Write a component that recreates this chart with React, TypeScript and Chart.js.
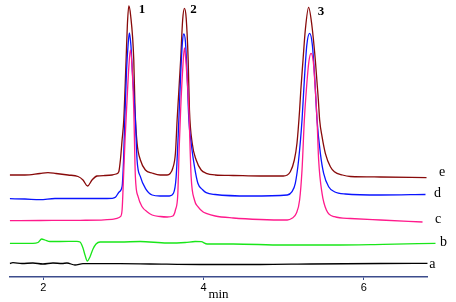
import { useEffect, useRef } from "react";
import { Chart, registerables } from "chart.js";

Chart.register(...registerables);

// ---- data (time in min, detector signal in arbitrary units) ----
const tickValues = [2, 4, 6];
const axisTitle = "min";

const traceNames = ["a", "b", "c", "d", "e"];
const traceColors = ["#000000", "#19e619", "#ff1a8c", "#0a14ff", "#880a0a"];

const aTimes = [1.584, 1.621, 1.734, 1.871, 1.996, 2.121, 2.234, 2.296, 2.396, 2.496, 2.959, 3.334, 3.959, 4.709, 5.334, 6.209, 6.796];
const aValues = [13.5, 14.3, 13.5, 14, 13, 14, 13.5, 14, 12, 13.3, 13.3, 13, 12.5, 12.5, 13, 13.5, 13.7];

const bTimes = [1.584, 1.871, 1.934, 1.98, 2.021, 2.084, 2.209, 2.421, 2.459, 2.496, 2.521, 2.55, 2.584, 2.621, 2.659, 2.709, 2.959, 3.209, 3.546, 3.771, 3.896, 3.971, 4.046, 4.371, 4.996, 5.621, 6.246, 6.896];
const bValues = [33.7, 33.7, 34.5, 38, 37, 35.5, 35.5, 35.7, 35, 29, 22, 16, 20.3, 28, 33, 35, 35, 35.5, 34, 34.5, 35.5, 35.3, 33, 33, 32, 32, 32.7, 33.7];

const cTimes = [1.584, 1.959, 2.459, 2.859, 2.921, 2.9625, 2.984, 3.0025, 3.021, 3.046, 3.0675, 3.0875, 3.109, 3.13, 3.15, 3.184, 3.234, 3.296, 3.359, 3.459, 3.546, 3.6175, 3.65, 3.68, 3.696, 3.715, 3.74, 3.7625, 3.784, 3.8175, 3.846, 3.8875, 3.93, 3.9925, 4.034, 4.146, 4.371, 4.709, 5.046, 5.105, 5.159, 5.2, 5.23, 5.259, 5.284, 5.315, 5.3425, 5.371, 5.396, 5.4175, 5.4375, 5.48, 5.534, 5.634, 5.834, 6.209, 6.734];
const cValues = [56.3, 56.5, 56.7, 57.7, 58.7, 60.3, 67, 101, 137, 177, 209, 227, 209, 167, 100.3, 80.3, 70.3, 65.3, 62, 60.5, 60, 61, 67, 83.7, 127, 167, 207, 229, 212, 167, 100.3, 77, 70.3, 65.3, 63.7, 61, 59, 57.5, 57, 58.7, 63.7, 77, 107, 157, 187, 215, 223.7, 215, 187, 157, 117, 83.7, 67, 60.3, 58.5, 57, 55];

const dTimes = [1.584, 1.771, 1.959, 2.146, 2.459, 2.709, 2.859, 2.9, 2.95, 2.984, 3.0025, 3.0175, 3.04, 3.059, 3.075, 3.094, 3.115, 3.15, 3.171, 3.2125, 3.275, 3.359, 3.459, 3.575, 3.625, 3.659, 3.6925, 3.715, 3.7375, 3.755, 3.775, 3.796, 3.8175, 3.846, 3.8875, 3.93, 3.9925, 4.034, 4.146, 4.584, 5.046, 5.105, 5.146, 5.1875, 5.23, 5.259, 5.29, 5.325, 5.359, 5.39, 5.4175, 5.459, 5.5, 5.5625, 5.634, 5.771, 6.209, 6.771];
const dValues = [78.3, 78, 77.3, 78.5, 78.5, 78.5, 78.7, 79.7, 85.3, 90.3, 117, 157, 207, 232, 244, 232, 202, 157, 117, 100.3, 88.7, 82, 81, 81, 83.7, 100.3, 157, 202, 235, 243, 235, 202, 157, 134, 110.3, 93.7, 87, 84.3, 82.5, 81, 82, 85.3, 93.7, 117, 157, 197, 232, 243.7, 232, 197, 157, 123.7, 103.7, 90.3, 85.3, 83, 82, 82.5];

const eTimes = [1.584, 1.771, 1.959, 2.059, 2.159, 2.309, 2.434, 2.496, 2.553, 2.609, 2.671, 2.771, 2.859, 2.909, 2.943, 2.963, 2.984, 3.005, 3.034, 3.05, 3.068, 3.09, 3.13, 3.146, 3.171, 3.2125, 3.275, 3.359, 3.459, 3.546, 3.584, 3.6175, 3.65, 3.671, 3.715, 3.74, 3.7625, 3.784, 3.809, 3.825, 3.859, 3.909, 3.971, 4.034, 4.146, 4.371, 4.709, 4.996, 5.084, 5.134, 5.1675, 5.2, 5.215, 5.2425, 5.271, 5.3125, 5.3525, 5.396, 5.434, 5.45, 5.48, 5.521, 5.584, 5.634, 5.734, 5.834, 6.209, 6.784];
const eValues = [102, 102, 103.5, 104.3, 103.5, 102, 100.5, 97, 91, 97, 101, 101.5, 102, 103, 105.3, 117, 137, 157, 217, 252, 271, 262, 217, 167, 134, 117, 107, 104, 102, 102, 103.5, 109, 124, 157, 217, 257, 268.7, 259, 217, 167, 134, 117, 107, 103.7, 102, 101.5, 101, 101, 105.3, 117, 134, 167, 187, 217, 247, 269.7, 252, 217, 177, 157, 140.3, 123.7, 110.3, 105.3, 102, 100.5, 100, 99.3];

const peakNames = ["1", "2", "3"];
const peakTimes = [3.068, 3.7625, 5.3125];

const traceTimes = [aTimes, bTimes, cTimes, dTimes, eTimes];
const traceValues = [aValues, bValues, cValues, dValues, eValues];

// ---- style (pixel offsets of text relative to the marks) ----
const endLabelOffsets = [
  { dx: 5, dy: 1.5 },
  { dx: 8, dy: -0.5 },
  { dx: 15.7, dy: -2.6 },
  { dx: 12, dy: -1.5 },
  { dx: 15.7, dy: -5.6 },
];
const peakLabelOffsets = [
  { dx: 13.3, dy: 4 },
  { dx: 9, dy: 1.7 },
  { dx: 12.4, dy: 4.4 },
];

const SERIF = "'Liberation Serif', 'Times New Roman', Times, serif";
const SANS = "'Liberation Sans', Arial, Helvetica, sans-serif";
const AXIS_COLOR = "#3c4c8c";

const textPlugin = {
  id: "chromLabels",
  afterDatasetsDraw(chart: any) {
    const ctx = chart.ctx;
    const xs = chart.scales.x;
    const ys = chart.scales.y;
    ctx.save();
    ctx.fillStyle = "#000";
    ctx.textAlign = "center";
    ctx.textBaseline = "middle";
    ctx.font = `14px ${SERIF}`;
    traceNames.forEach((name, i) => {
      const ts = traceTimes[i];
      const vs = traceValues[i];
      const n = ts.length - 1;
      const px = xs.getPixelForValue(ts[n]) + endLabelOffsets[i].dx;
      const py = ys.getPixelForValue(vs[n]) + endLabelOffsets[i].dy;
      ctx.fillText(name, px, py);
    });
    ctx.font = `bold 13px ${SERIF}`;
    peakNames.forEach((name, i) => {
      const t = peakTimes[i];
      let best = -Infinity;
      eTimes.forEach((tt, k) => {
        if (Math.abs(tt - t) < 0.05 && eValues[k] > best) best = eValues[k];
      });
      const px = xs.getPixelForValue(t) + peakLabelOffsets[i].dx;
      const py = ys.getPixelForValue(best) + peakLabelOffsets[i].dy;
      ctx.fillText(name, px, py);
    });
    ctx.restore();
  },
};

export default function App() {
  const canvasRef = useRef<HTMLCanvasElement | null>(null);

  useEffect(() => {
    if (!canvasRef.current) return;
    const datasets = traceNames.map((name, i) => ({
      label: name,
      data: traceTimes[i].map((t, k) => ({ x: t, y: traceValues[i][k] })),
      borderColor: traceColors[i],
      borderWidth: 1.3,
      pointRadius: 0,
      fill: false,
      tension: 0.4,
      cubicInterpolationMode: "monotone" as const,
      clip: false as any,
    }));

    const chart = new Chart(canvasRef.current, {
      type: "line",
      data: { datasets },
      plugins: [textPlugin],
      options: {
        animation: false,
        responsive: true,
        maintainAspectRatio: false,
        layout: { padding: { left: 10, right: 29, top: 0, bottom: 0 } },
        plugins: { legend: { display: false }, tooltip: { enabled: false } },
        scales: {
          x: {
            type: "linear",
            min: 1.585,
            max: 6.79,
            afterBuildTicks: (scale: any) => {
              scale.ticks = tickValues.map((v) => ({ value: v }));
            },
            afterFit: (scale: any) => {
              scale.height = 25;
            },
            grid: {
              display: true,
              drawOnChartArea: false,
              drawTicks: true,
              tickLength: 3,
              color: AXIS_COLOR,
              lineWidth: 1,
            },
            border: { display: true, color: AXIS_COLOR, width: 1.5 },
            ticks: {
              padding: 1,
              color: "#000",
              font: { family: SANS, size: 11 },
              maxRotation: 0,
              callback: (v: any) => String(v),
            },
            title: {
              display: true,
              text: axisTitle,
              color: "#000",
              font: { family: SERIF, size: 13 },
              padding: { top: 0, bottom: 0 },
            },
          },
          y: {
            type: "linear",
            display: false,
            min: 0,
            max: 277,
          },
        },
      },
    });
    return () => chart.destroy();
  }, []);

  return (
    <div style={{ position: "absolute", left: 0, top: 0, width: 456, height: 302, background: "#fff" }}>
      <canvas ref={canvasRef} />
    </div>
  );
}
